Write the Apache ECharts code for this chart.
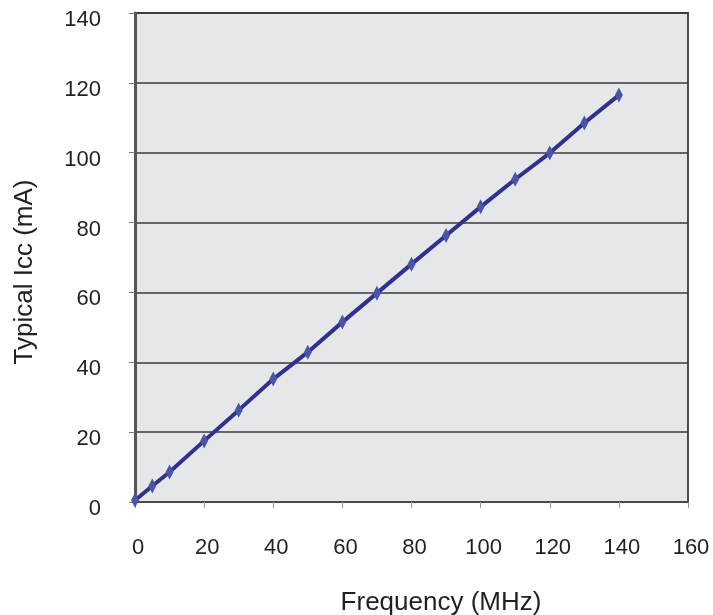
<!DOCTYPE html>
<html>
<head>
<meta charset="utf-8">
<script src="https://cdn.jsdelivr.net/npm/echarts@6/dist/echarts.min.js"></script>
<style>
html,body{margin:0;padding:0;background:#fff;}
#chart{width:713px;height:615px;}
</style>
</head>
<body>
<div id="chart"></div>
<script>
var frequency = [0, 5, 10, 20, 30, 40, 50, 60, 70, 80, 90, 100, 110, 120, 130, 140];
var icc = [0.5, 4.6, 8.6, 17.5, 26.3, 35.2, 42.9, 51.5, 59.8, 68.1, 76.3, 84.5, 92.4, 99.9, 108.5, 116.5];
var xTitle = 'Frequency (MHz)';
var yTitle = 'Typical Icc (mA)';

var points = frequency.map(function (f, i) { return [f, icc[i]]; });
var chart = echarts.init(document.getElementById('chart'));
var font = 'Liberation Sans, Arial, sans-serif';
chart.setOption({
  animation: false,
  grid: { left: 135, right: 25, top: 13, bottom: 113, show: true, backgroundColor: '#e6e7e9', borderColor: '#4a4a4a', borderWidth: 2 },
  xAxis: {
    type: 'value', min: 0, max: 160, interval: 20,
    axisLine: { show: true, onZero: false, lineStyle: { color: '#4a4a4a', width: 2 } },
    axisTick: { show: true, length: 6, lineStyle: { color: '#999' } },
    splitLine: { show: false },
    axisLabel: { color: '#231f20', fontSize: 22, fontFamily: font, margin: 35, padding: [0, 0, 0, 6] }
  },
  yAxis: {
    type: 'value', min: 0, max: 140, interval: 20,
    axisLine: { show: true, onZero: false, lineStyle: { color: '#555', width: 3 } },
    axisTick: { show: true, length: 6, lineStyle: { color: '#777' } },
    splitLine: { show: true, lineStyle: { color: '#3a3a3a', width: 1.5 } },
    axisLabel: { color: '#231f20', fontSize: 22, fontFamily: font, margin: 34, verticalAlign: 'top', lineHeight: 14 }
  },
  graphic: [
    { type: 'text', style: { text: xTitle, fill: '#231f20', font: '26px ' + font, textAlign: 'center', textVerticalAlign: 'middle' }, position: [441, 603] },
    { type: 'text', style: { text: yTitle, fill: '#231f20', font: '26px ' + font, textAlign: 'center', textVerticalAlign: 'middle' }, position: [25, 272], rotation: Math.PI / 2 }
  ],
  series: [{
    type: 'line',
    data: points,
    lineStyle: { color: '#2e3192', width: 4 },
    symbol: 'diamond',
    symbolSize: [8, 15],
    itemStyle: { color: '#4b55a8', borderColor: '#4b55a8', borderWidth: 0 },
    z: 5
  }]
});
</script>
</body>
</html>
